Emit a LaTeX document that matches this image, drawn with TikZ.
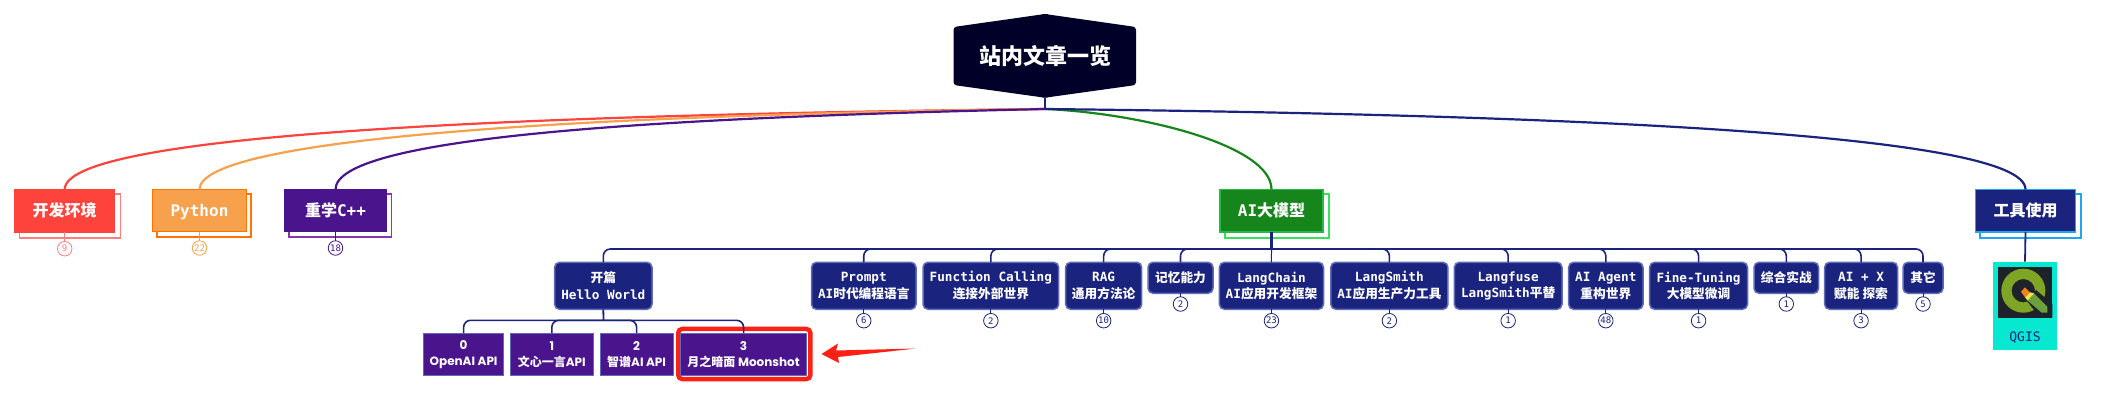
\documentclass[tikz,border=0pt]{standalone}
\usepackage{fontspec}
\setmainfont{DejaVu Sans Mono}[BoldFont={DejaVu Sans Mono Bold}]
\newfontfamily\cjkf{Noto Sans CJK SC}
\newfontfamily\popf{Poppins}
\newcommand{\zh}[1]{{\cjkf\bfseries #1}}
\definecolor{rootc}{HTML}{000028}
\definecolor{redc}{HTML}{FD433C}
\definecolor{redl}{HTML}{FF7F7F}
\definecolor{orangec}{HTML}{F7A14C}
\definecolor{oranged}{HTML}{FF7300}
\definecolor{purplec}{HTML}{4A148C}
\definecolor{purplel}{HTML}{8A35B0}
\definecolor{navyc}{HTML}{1A237E}
\definecolor{navyl}{HTML}{5F6BB8}
\definecolor{greenc}{HTML}{16861C}
\definecolor{greenb}{HTML}{22BB44}
\definecolor{greenl}{HTML}{3BE05A}
\definecolor{bluec}{HTML}{1EA7F0}
\definecolor{tealc}{HTML}{07E8D0}
\definecolor{hlred}{HTML}{FF2015}
\definecolor{logobg}{HTML}{1E222B}
\definecolor{ringc}{HTML}{7FA524}
\definecolor{tailc}{HTML}{6BA03C}
\definecolor{headc}{HTML}{F5821F}
\definecolor{bandc}{HTML}{E6E84A}
\tikzset{
  rootbox/.style={inner sep=0pt,outer sep=0pt,text=white,font=\fontsize{22}{26}\selectfont},
  branchbox/.style={draw=#1,line width=1.5pt,inner sep=0pt,outer sep=0pt,text=white,align=center,text height=15pt,text depth=3pt,font=\fontsize{16}{20}\selectfont\bfseries},
  shadowbox/.style={draw=#1,line width=1.2pt,fill=white},
  childbox/.style={draw=navyl,line width=1.5pt,fill=navyc,rounded corners=5pt,inner sep=0pt,outer sep=0pt,text=white,align=center,font=\fontsize{12.7}{16.6}\selectfont\bfseries},
  subbox/.style={draw=navyl,line width=.6pt,fill=purplec,inner sep=0pt,outer sep=0pt,text=white,align=center,font=\fontsize{12}{16}\selectfont\popf\bfseries},
  badge/.style={circle,draw=#1,line width=.8pt,fill=white,text=#1,inner sep=0pt,outer sep=0pt,minimum size=14.5pt,font=\fontsize{9}{9}\selectfont},
  conn/.style={draw=navyc,line width=1.6pt,rounded corners=7pt},
  thickbus/.style={draw=navyc,line width=2.2pt},
  curve/.style={line width=2.2pt,draw=#1},
  stem/.style={line width=.8pt,draw=#1}
}
\newcommand{\childn}[5]{% name, x1, x2, y2, text
  \node[childbox,minimum width={#3-#2},minimum height={#4-262.3}] (#1) at ({(#2+#3)/2},{(262.3+#4)/2}) {#5};}
\begin{document}
\begin{tikzpicture}[x=1pt,y=-1pt]
\useasboundingbox (0,0) rectangle (2109,400);
\fill[white] (0,0) rectangle (2109,400);

% root
\fill[rootc,rounded corners=3pt] (953.5,27) -- (1045,14) -- (1136,27) -- (1136,85) -- (1045,97.7) -- (953.5,85) -- cycle;
\fill[rootc] (1042,14.3) -- (1045,14) -- (1048,14.3) -- (1045,20) -- cycle;
\fill[rootc] (1042,97.3) -- (1045,97.7) -- (1048,97.3) -- (1045,90) -- cycle;
\node[rootbox,minimum width=182pt,minimum height=83.7pt] (root) at (1045,55.85) {\zh{站内文章一览}};
\coordinate (hub) at (1045,109);

% branch shadows
\draw[shadowbox=redl] (19.6,194) rectangle (120.5,238);
\draw[shadowbox=oranged] (157,194) rectangle (251,237);
\draw[shadowbox=purplel] (289,194) rectangle (391.5,237);
\draw[shadowbox=greenl] (1225,194) rectangle (1329,238);
\draw[shadowbox=bluec] (1980,194) rectangle (2081,238);

% branches
\node[branchbox=redc,fill=redc,minimum width=100pt,minimum height=42.5pt] (dev) at (64.7,210.7) {\zh{开发环境}};
\node[branchbox=oranged,fill=orangec,minimum width=94pt,minimum height=42pt] (py) at (199.5,210.5) {Python};
\node[branchbox=purplec,fill=purplec,minimum width=102pt,minimum height=42pt] (cpp) at (335.5,210.5) {\zh{重学}C++};
\node[branchbox=greenb,fill=greenc,minimum width=103pt,minimum height=42.5pt] (ai) at (1271.5,210.7) {AI\zh{大模型}};
\node[branchbox=bluec,fill=navyc,minimum width=100pt,minimum height=42.5pt] (tool) at (2025.5,210.7) {\zh{工具使用}};

% main curves
\draw[curve=redc] (hub) .. controls (500,115) and (64.7,135) .. (dev.north);
\draw[curve=orangec] (hub) .. controls (580,115) and (199.5,138) .. (py.north);
\draw[curve=purplec] (hub) .. controls (640,118) and (335.5,138) .. (cpp.north);
\draw[curve=greenc] (hub) .. controls (1140,113) and (1271.5,145) .. (ai.north);
\draw[curve=navyc] (hub) .. controls (1590,115) and (2025.5,135) .. (tool.north);
\draw[navyc,line width=2.4pt] (root.south) -- (hub);

% badges of branches
\node[badge=redl] (bdev) at (64.7,248.7) {9};
\node[badge=orangec] (bpy) at (199.5,248) {22};
\node[badge=purplec] (bcpp) at (335.5,248) {18};
\draw[stem=redl] (dev.south) -- (bdev.north);
\draw[stem=orangec] (py.south) -- (bpy.north);
\draw[stem=purplec] (cpp.south) -- (bcpp.north);

% children of the AI branch
\childn{kp}{554.6}{652}{309.3}{\zh{开篇}\\Hello World}
\childn{prompt}{811.5}{916}{309.3}{Prompt\\AI\zh{时代编程语言}}
\childn{fc}{923}{1058.7}{309.3}{Function Calling\\\zh{连接外部世界}}
\childn{rag}{1065.6}{1141.7}{309.3}{RAG\\\zh{通用方法论}}
\childn{mem}{1148}{1213}{293.3}{\zh{记忆能力}}
\childn{lc}{1219.4}{1323.5}{309.3}{LangChain\\AI\zh{应用开发框架}}
\childn{ls}{1330.8}{1447.9}{309.3}{LangSmith\\AI\zh{应用生产力工具}}
\childn{lf}{1454.3}{1562}{309.3}{Langfuse\\LangSmith\zh{平替}}
\childn{agent}{1568.6}{1643}{309.3}{AI Agent\\\zh{重构世界}}
\childn{ft}{1649.6}{1747.5}{309.3}{Fine-Tuning\\\zh{大模型微调}}
\childn{war}{1754}{1818.6}{293.3}{\zh{综合实战}}
\childn{aix}{1824.6}{1897.5}{309.3}{AI + X\\\zh{赋能 探索}}
\childn{other}{1903}{1943}{293.3}{\zh{其它}}

\coordinate (bus) at (1271.5,249);
\foreach \c in {kp,prompt,fc,rag,mem,ls,lf,agent,ft,war,aix,other}
  \draw[conn] (bus) -| (\c.north);
\draw[thickbus] (ai.south) -- (bus);
\draw[navyc,line width=1pt] (bus) -- (lc.north);

% child badges
\foreach \c/\t/\y in {prompt/6/320.7,fc/2/320.7,rag/10/320.7,mem/2/304,lc/23/320.7,ls/2/320.7,lf/1/320.7,agent/48/320.7,ft/1/320.7,war/1/304,aix/3/320.7,other/5/304}{
  \path (\c.south) coordinate (tmp);
  \node[badge=navyc] (b\c) at (tmp |- 0,\y) {\t};
  \draw[stem=navyc] (\c.south) -- (b\c.north);
}

% highlight and sub nodes
\node[subbox,minimum width=80pt,minimum height=42.3pt] (s0) at (463.6,354.2) {0\\OpenAI API};
\node[subbox,minimum width=82.2pt,minimum height=42.3pt] (s1) at (551.8,354.2) {1\\\zh{文心一言}API};
\node[subbox,minimum width=72.5pt,minimum height=42.3pt] (s2) at (636.6,354.2) {2\\\zh{智谱}AI API};
\draw[hlred,line width=4.4pt,rounded corners=4pt] (678.2,328.9) rectangle (810.3,379.1);
\node[subbox,minimum width=125.7pt,minimum height=42.3pt] (s3) at (743.6,354.2) {3\\\zh{月之暗面} Moonshot};
\coordinate (subbus) at (603.5,320.3);
\foreach \c in {s0,s1,s2,s3}
  \draw[conn] (subbus) -| (\c.north);
\draw[navyc,line width=1.8pt] (kp.south) -- (subbus);

% red arrow
\fill[hlred] (821.5,354) -- (838,343.5) -- (836,350.5) -- (916,348.5) -- (838,357) -- (839,363) -- cycle;

% tool card
\node[fill=tealc,minimum width=64pt,minimum height=88.6pt,inner sep=0pt,outer sep=0pt] (card) at (2025,306) {};
\draw[navyc,line width=1.8pt] (tool.south) -- (card.north);
\fill[logobg] (1998.3,267.3) rectangle (2052.3,317.7);
\fill[ringc,even odd rule] (2023.3,290.7) circle (22) (2023.3,290.7) circle (11.7);
\fill[logobg] (2027,301) -- (2036,290) -- (2052.3,304) -- (2052.3,317.7) -- (2040,317.7) -- cycle;
\fill[tailc] (2034,293.3) -- (2047.3,306.7) -- (2047.3,312.7) -- (2041.7,312.7) -- (2027.7,300.7) -- cycle;
\fill[bandc] (2030,292.3) -- (2034,293.3) -- (2027.7,300.7) -- (2025,297.3) -- cycle;
\fill[headc] (2021,291.7) -- (2025,287.3) -- (2030,292.3) -- (2025,297.3) -- cycle;
\node[inner sep=0pt,text=navyc,font=\fontsize{13}{13}\selectfont] (qg) at (2025,337.7) {QGIS};
\end{tikzpicture}
\end{document}
